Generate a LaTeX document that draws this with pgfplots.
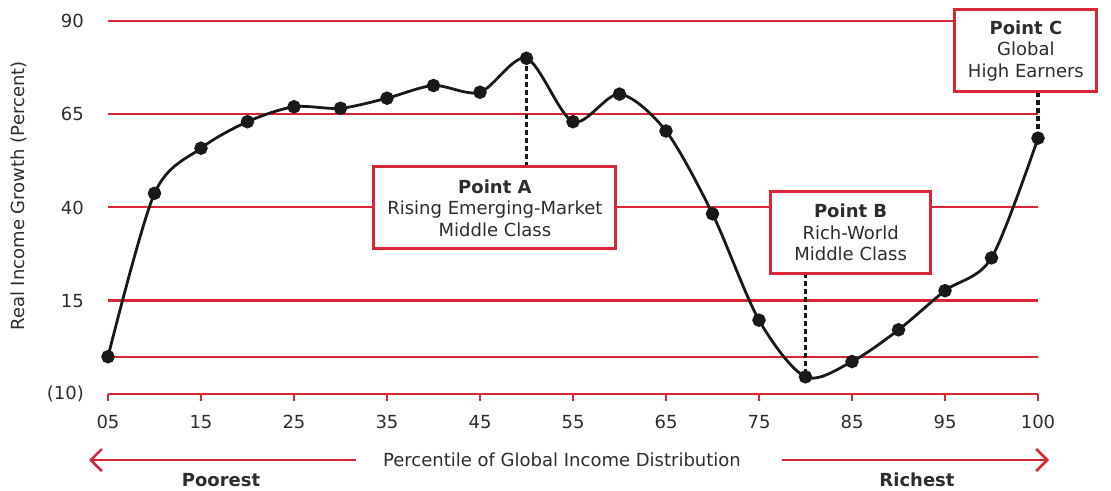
\documentclass[border=0pt]{standalone}
\usepackage{fontspec}
\setmainfont{DejaVu Sans}
\usepackage{pgfplots}
\pgfplotsset{compat=1.18}
\usetikzlibrary{arrows.meta}
\definecolor{cred}{RGB}{218,37,55}
\definecolor{ctext}{RGB}{45,45,45}
\definecolor{cline}{RGB}{25,25,25}
\newcommand{\fs}{\fontsize{18}{21.5}\selectfont}
\begin{document}
\begin{tikzpicture}
\begin{axis}[name=ax, at={(0,0)}, anchor=south west,
  scale only axis, width=930pt, height=373pt,
  xmin=0, xmax=20, ymin=-10, ymax=90,
  clip=false, set layers=standard,
  axis lines*=left,
  x axis line style={cred, line width=2.8pt, -},
  y axis line style={draw=none},
  xtick={0,2,...,20},
  xticklabels={05,15,25,35,45,55,65,75,85,95,100},
  ytick={-10,15,40,65,90},
  yticklabels={(10),15,40,65,90},
  tick align=outside, major tick length=7pt,
  xtick style={cred, line width=2.5pt},
  ytick style={draw=none},
  tick label style={font=\fs, text=ctext},
  yticklabel style={inner sep=0pt, xshift=-17pt},
  xticklabel style={inner sep=0pt, yshift=-14pt},
]
\begin{pgfonlayer}{axis grid}
\draw[cred, line width=2pt] (axis cs:0,90) -- (axis cs:20,90);
\draw[cred, line width=2pt] (axis cs:0,65) -- (axis cs:20,65);
\draw[cred, line width=2pt] (axis cs:0,40) -- (axis cs:20,40);
\draw[cred, line width=3.4pt] (axis cs:0,15) -- (axis cs:20,15);
\draw[cred, line width=2pt] (axis cs:0,0) -- (axis cs:20,0);
\end{pgfonlayer}
\addplot[cline, line width=2.8pt, smooth, tension=0.5, mark=*, mark size=5.3pt, mark options={solid, fill=cline}] coordinates {
(0,0) (1,43.8) (2,55.9) (3,63.0) (4,67.0) (5,66.6) (6,69.3) (7,72.7) (8,70.9) (9,80.0)
(10,63.0) (11,70.4) (12,60.5) (13,38.3) (14,9.8) (15,-5.4) (16,-1.3) (17,7.2) (18,17.7) (19,26.5) (20,58.6)};
\draw[cline, line width=3.2pt, dash pattern=on 5pt off 3pt] (axis cs:9,80) -- (axis cs:9,50.9);
\draw[cline, line width=3.2pt, dash pattern=on 5pt off 3pt] (axis cs:15,22.4) -- (axis cs:15,-5.4);
\draw[cline, line width=3.2pt, dash pattern=on 5pt off 3pt] (axis cs:20,71.0) -- (axis cs:20,58.6);
\node[draw=cred, line width=3pt, fill=white, minimum width=242pt, minimum height=82pt, align=center, text=ctext, font=\fs, inner sep=0pt] at (axis cs:8.32,39.9) {\textbf{Point A}\\Rising Emerging-Market\\Middle Class};
\node[draw=cred, line width=3pt, fill=white, minimum width=160pt, minimum height=82pt, align=center, text=ctext, font=\fs, inner sep=0pt] at (axis cs:15.97,33.3) {\textbf{Point B}\\Rich-World\\Middle Class};
\node[draw=cred, line width=3pt, fill=white, minimum width=142pt, minimum height=82pt, align=center, text=ctext, font=\fs, inner sep=0pt] at (axis cs:19.74,82.0) {\textbf{Point C}\\Global\\High Earners};
\end{axis}
\begin{scope}[shift={(ax.south west)}, x=1pt, y=1pt]
\draw[cred, line width=2.6pt, -{Straight Barb[length=11pt, width=22pt, line width=2.6pt]}] (248,-66) -- (-19,-66);
\draw[cred, line width=2.6pt, -{Straight Barb[length=11pt, width=22pt, line width=2.6pt]}] (674,-66) -- (941,-66);
\node[text=ctext, font=\fs] at (454,-66) {Percentile of Global Income Distribution};
\node[text=ctext, font=\fs\bfseries] at (113,-86) {Poorest};
\node[text=ctext, font=\fs\bfseries] at (809,-86) {Richest};
\node[text=ctext, font=\fs, rotate=90] at (-89,198) {Real Income Growth (Percent)};
\end{scope}
\pgfresetboundingbox
\path[use as bounding box] (-108pt,-96pt) rectangle (1003pt,394pt);
\end{tikzpicture}
\end{document}
